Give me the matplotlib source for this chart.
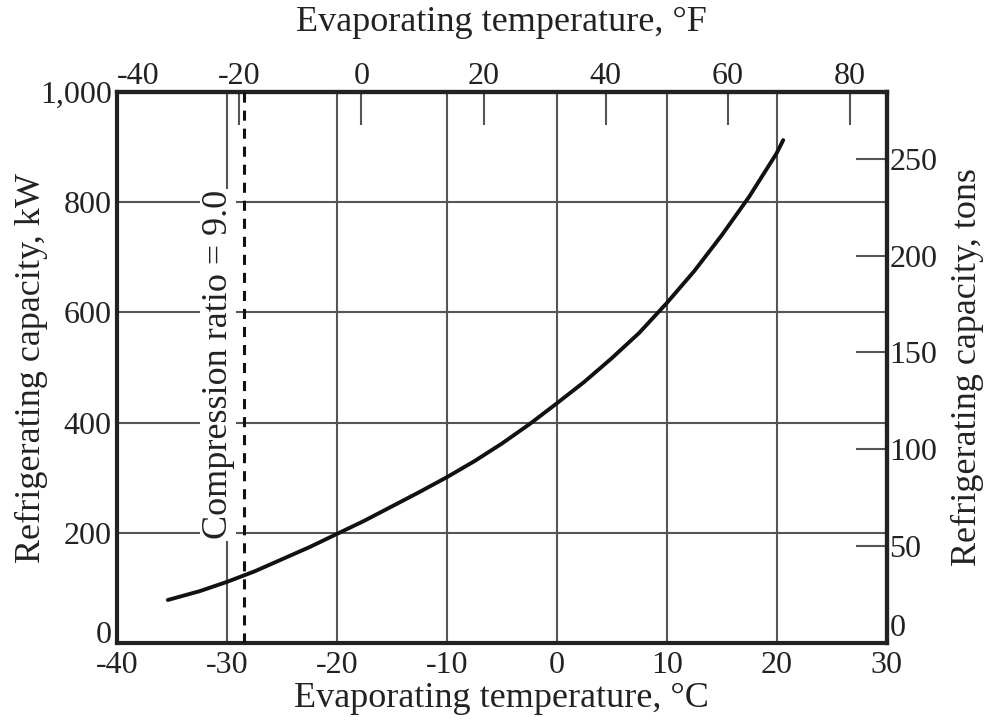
import matplotlib
matplotlib.use("Agg")
import matplotlib.pyplot as plt

# Data
temp_c = [-35.4, -32.5, -30, -27.5, -25, -22.5, -20, -17.5, -15, -12.5, -10,
          -7.5, -5, -2.5, 0, 2.5, 5, 7.5, 10, 12.5, 15, 17.5, 20, 20.6]
capacity_kw = [78, 94, 111, 130, 152, 174, 198, 222, 248, 274, 301,
               330, 362, 397, 435, 474, 517, 563, 617, 675, 740, 810, 889, 913]
compression_ratio_temp = -28.5
x_ticks = [-40, -30, -20, -10, 0, 10, 20, 30]
y_ticks = [0, 200, 400, 600, 800, 1000]
y_tick_labels = ["0", "200", "400", "600", "800", "1,000"]
f_ticks = [-40, -20, 0, 20, 40, 60, 80]
ton_ticks = [0, 50, 100, 150, 200, 250]
KW_PER_TON = 3.517

plt.rcParams['font.family'] = ['Liberation Serif', 'DejaVu Serif']
plt.rcParams['axes.unicode_minus'] = False

TICK_FS = 23
LABEL_FS = 26

fig = plt.figure(figsize=(9.85, 7.2), dpi=100)
ax = fig.add_axes([0.119, 0.107, 0.781, 0.765])

ax.set_xlim(-40, 30)
ax.set_ylim(0, 1000)
ax.set_xticks(x_ticks)
ax.set_yticks(y_ticks)
ax.set_yticklabels(y_tick_labels)
ax.grid(True, color='#555555', linewidth=1.5, zorder=1)
ax.tick_params(axis='x', length=0, labelsize=TICK_FS, pad=6, labelcolor='#222222')
ax.tick_params(axis='y', length=0, labelsize=TICK_FS, pad=4, labelcolor='#222222')
for s in ax.spines.values():
    s.set_linewidth(3)
    s.set_color('#222222')

ax.plot(temp_c, capacity_kw, color='#111111', linewidth=2.8, zorder=4,
        solid_capstyle='round', solid_joinstyle='round')
ax.axvline(compression_ratio_temp, color='#111111', linewidth=2.2,
           linestyle=(0, (3.3, 2.6)), zorder=5)
ax.text(-30.8, 505, "Compression ratio = 9.0", rotation=90, fontsize=26,
        ha='center', va='center', zorder=3, color='#222222',
        bbox=dict(facecolor='white', edgecolor='none', pad=1))

ax.set_xlabel("Evaporating temperature, °C", fontsize=LABEL_FS, labelpad=1,
              color='#222222')
ax.set_ylabel("Refrigerating capacity, kW", fontsize=LABEL_FS, labelpad=-6,
              color='#222222')

secx = ax.secondary_xaxis('top', functions=(lambda c: c * 9 / 5 + 32,
                                             lambda f: (f - 32) * 5 / 9))
secx.set_xticks(f_ticks)
secx.tick_params(direction='in', length=24, width=1.5, labelsize=TICK_FS, pad=1,
                 color='#555555', labelcolor='#222222')
secx.set_xlabel("Evaporating temperature, °F", fontsize=LABEL_FS, labelpad=22,
                color='#222222')
secx.spines['top'].set_linewidth(3)

secy = ax.secondary_yaxis('right', functions=(lambda k: k / KW_PER_TON,
                                               lambda t: t * KW_PER_TON))
secy.set_yticks(ton_ticks)
secy.tick_params(direction='in', length=22, width=1.5, labelsize=TICK_FS, pad=2,
                 color='#555555', labelcolor='#222222')
secy.set_ylabel("Refrigerating capacity, tons", fontsize=LABEL_FS, labelpad=10,
                color='#222222')
secy.spines['right'].set_linewidth(3)

# Corner labels sit as in the reference, clear of each other
fig.canvas.draw()
ax.get_yticklabels()[0].set_verticalalignment('baseline')
secy.get_yticklabels()[0].set_verticalalignment('bottom')
secx.get_xticklabels()[0].set_horizontalalignment('left')

fig.savefig("out.png", dpi=100)
